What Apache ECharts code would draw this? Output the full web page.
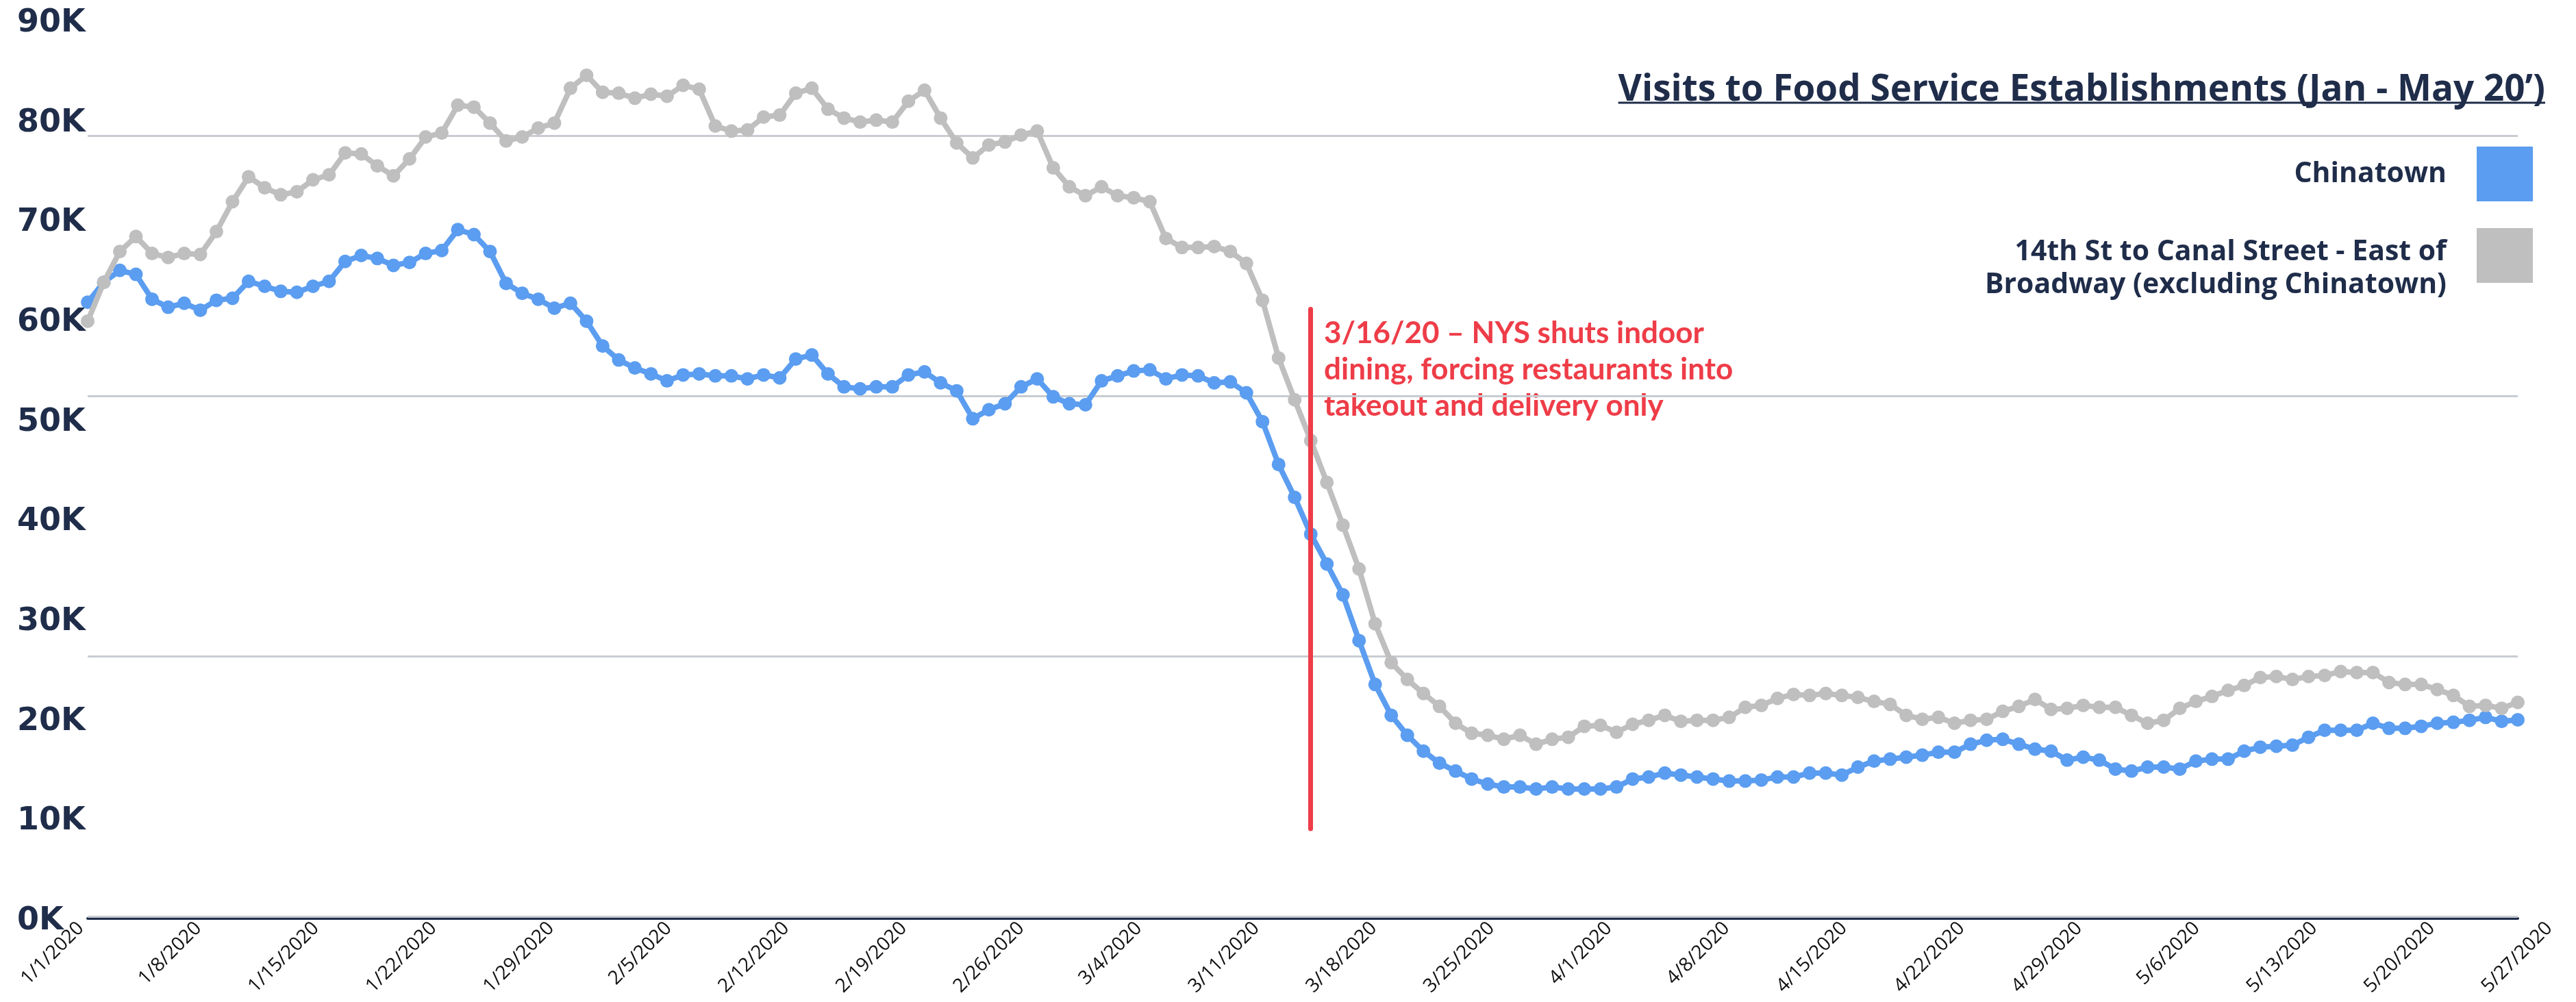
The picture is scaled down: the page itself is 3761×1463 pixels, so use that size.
<!DOCTYPE html>
<html>
<head>
<meta charset="utf-8">
<title>Visits to Food Service Establishments</title>
<script src="https://cdn.jsdelivr.net/npm/echarts@6/dist/echarts.min.js"></script>
<style>
html, body { margin: 0; padding: 0; background: #fff; }
#chart { width: 3761px; height: 1463px; }
</style>
</head>
<body>
<div id="chart"></div>
<script>
// daily visits, 1/1/2020 - 5/31/2020
const chinatown = [61700,63700,64900,64500,62000,61200,61600,60900,61900,62100,
  63800,63300,62800,62700,63300,63800,65800,66400,66100,65400,
  65700,66600,66900,69000,68500,66800,63600,62600,62000,61100,
  61600,59800,57300,55900,55100,54500,53800,54400,54500,54300,
  54300,54000,54400,54100,56000,56400,54500,53200,53000,53200,
  53200,54400,54700,53600,52800,50000,50900,51500,53200,54000,
  52200,51500,51400,53800,54300,54800,54900,54000,54400,54300,
  53600,53700,52600,49700,45400,42100,38400,35400,32300,27700,
  23300,20200,18200,16600,15400,14600,13800,13300,13000,13000,
  12800,13000,12800,12800,12800,13000,13800,14000,14400,14200,
  14000,13800,13600,13600,13700,14000,14000,14400,14400,14200,
  15000,15600,15800,16000,16200,16500,16500,17300,17700,17800,
  17300,16800,16600,15700,16000,15700,14800,14600,15000,15000,
  14800,15600,15800,15800,16600,17000,17100,17200,18000,18700,
  18700,18700,19400,18900,18900,19100,19400,19500,19700,20000,
  19600,19750];

const eastOfBroadway = [59800,63700,66800,68300,66600,66200,66600,66500,68800,71800,
  74300,73200,72500,72800,74000,74500,76700,76600,75400,74400,
  76100,78300,78700,81500,81300,79700,77900,78300,79200,79700,
  83200,84500,82800,82700,82200,82600,82400,83500,83100,79400,
  78900,79000,80300,80500,82700,83200,81100,80200,79800,80000,
  79800,81900,83000,80200,77700,76200,77500,77800,78500,78900,
  75200,73300,72400,73300,72400,72200,71800,68100,67200,67200,
  67300,66800,65600,61900,56100,51900,47800,43600,39300,34900,
  29400,25500,23800,22400,21100,19400,18400,18200,17800,18200,
  17300,17800,18000,19100,19200,18500,19300,19700,20200,19600,
  19700,19700,20000,21000,21200,21900,22300,22200,22400,22200,
  22000,21600,21300,20200,19800,20000,19400,19700,19800,20600,
  21100,21800,20800,20900,21200,21000,21000,20200,19400,19700,
  20900,21600,22100,22700,23200,24000,24100,23800,24100,24200,
  24600,24500,24500,23500,23300,23300,22800,22200,21100,21200,
  20900,21500];

const weekLabels = ['1/1/2020','1/8/2020','1/15/2020','1/22/2020','1/29/2020','2/5/2020',
  '2/12/2020','2/19/2020','2/26/2020','3/4/2020','3/11/2020','3/18/2020','3/25/2020',
  '4/1/2020','4/8/2020','4/15/2020','4/22/2020','4/29/2020','5/6/2020','5/13/2020',
  '5/20/2020','5/27/2020'];

// horizontal rules of the original (not on the 10K ticks)
const gridValues = [0, 26150, 52300, 78400];

const annotationLines = ['3/16/20 – NYS shuts indoor', 'dining, forcing restaurants into', 'takeout and delivery only'];
const titleText = 'Visits to Food Service Establishments (Jan - May 20’)';
const eastName = '14th St to Canal Street - East of Broadway (excluding Chinatown)';

// one category per day
const dates = [];
for (let d = new Date(2020, 0, 1); d <= new Date(2020, 4, 31); d.setDate(d.getDate() + 1)) {
  dates.push((d.getMonth() + 1) + '/' + d.getDate() + '/' + d.getFullYear());
}

const navy = '#1f2d4a';
const blue = '#5b9df0';
const gray = '#bfbfbf';
const red = '#ee3d48';

function textWidth(str, font) {
  const ctx = document.createElement('canvas').getContext('2d');
  ctx.font = font;
  return ctx.measureText(str).width;
}
const titleW = textWidth(titleText, 'bold 53px "Open Sans"');

const legendFont = { fontFamily: 'Open Sans', fontWeight: 'bold', fontSize: 41, lineHeight: 48, color: navy };

const myChart = echarts.init(document.getElementById('chart'));
const option = {
  animation: false,
  backgroundColor: '#fff',
  title: {
    text: titleText,
    right: 45,
    top: 105,
    padding: 0,
    textStyle: { fontFamily: 'Open Sans', fontWeight: 'bold', fontSize: 53, lineHeight: 53, color: navy }
  },
  legend: {
    orient: 'vertical',
    right: 63,
    top: 214,
    padding: 0,
    align: 'right',
    itemWidth: 82,
    itemHeight: 80,
    itemGap: 12,
    icon: 'rect',
    selectedMode: false,
    data: ['Chinatown', eastName],
    formatter: function (name) {
      if (name === eastName) {
        return '{g|}\n{t|14th St to Canal Street - East of}\n{t|Broadway (excluding Chinatown)}';
      }
      return '{t|' + name + '}';
    },
    textStyle: Object.assign({
      padding: [0, 39, 0, 0],
      rich: {
        g: { fontSize: 1, lineHeight: 38 },
        t: legendFont
      }
    }, legendFont)
  },
  grid: [
    { left: 128, right: 85, top: 30, bottom: 125 },
    // the original's date labels and value labels sit a little off the plot scale
    { left: 118, right: 39, top: 34, bottom: 118 }
  ],
  xAxis: [
    {
      type: 'category', gridIndex: 0, data: dates, boundaryGap: false,
      axisLine: { show: true, onZero: false, lineStyle: { color: navy, width: 4 } },
      offset: 3,
      axisTick: { show: false }, axisLabel: { show: false }, splitLine: { show: false }
    },
    {
      type: 'category', gridIndex: 1, data: weekLabels, boundaryGap: false,
      axisLine: { show: false }, axisTick: { show: false },
      axisLabel: { interval: 0, rotate: 45, margin: 6, fontFamily: 'Open Sans', fontSize: 28, color: '#111' }
    }
  ],
  yAxis: [
    {
      type: 'value', gridIndex: 0, min: 0, max: 90000, interval: 10000,
      splitLine: { show: false }, axisLine: { show: false }, axisTick: { show: false },
      axisLabel: { show: false }
    },
    {
      type: 'value', gridIndex: 1, min: 0, max: 90000, interval: 10000,
      splitLine: { show: false }, axisLine: { show: false }, axisTick: { show: false },
      axisLabel: {
        formatter: function (v) { return v / 1000 + 'K'; },
        align: 'left', margin: 93,
        fontFamily: 'DejaVu Sans', fontWeight: 'bold', fontSize: 46, color: navy
      }
    }
  ],
  series: [
    {
      name: 'Chinatown', type: 'line', data: chinatown,
      symbol: 'circle', symbolSize: 20, showAllSymbol: true, z: 3,
      color: blue, lineStyle: { width: 8, color: blue }, itemStyle: { color: blue },
      markLine: {
        silent: true, symbol: 'none', z: 1, label: { show: false },
        lineStyle: { color: '#c8ccd2', width: 3, type: 'solid' },
        data: gridValues.map(function (v) { return { yAxis: v }; })
      }
    },
    {
      name: eastName, type: 'line', data: eastOfBroadway,
      symbol: 'circle', symbolSize: 20, showAllSymbol: true, z: 4,
      color: gray, lineStyle: { width: 8, color: gray }, itemStyle: { color: gray },
      markLine: {
        silent: true, symbol: 'none', z: 6, label: { show: false },
        lineStyle: { color: red, width: 7, type: 'solid', cap: 'round' },
        data: [[{ coord: [dates[76], 61000] }, { coord: [dates[76], 8800] }]]
      }
    }
  ],
  graphic: [
    {
      type: 'text', left: 1933, top: 460,
      style: {
        text: annotationLines.join('\n'), fill: red,
        fontFamily: 'Lato', fontWeight: 'bold', fontSize: 44, lineHeight: 53
      }
    },
    {
      type: 'line',
      shape: { x1: 3716 - titleW, y1: 150, x2: 3716, y2: 150 },
      style: { stroke: navy, lineWidth: 3 }
    }
  ]
};
option && myChart.setOption(option);
</script>
</body>
</html>
